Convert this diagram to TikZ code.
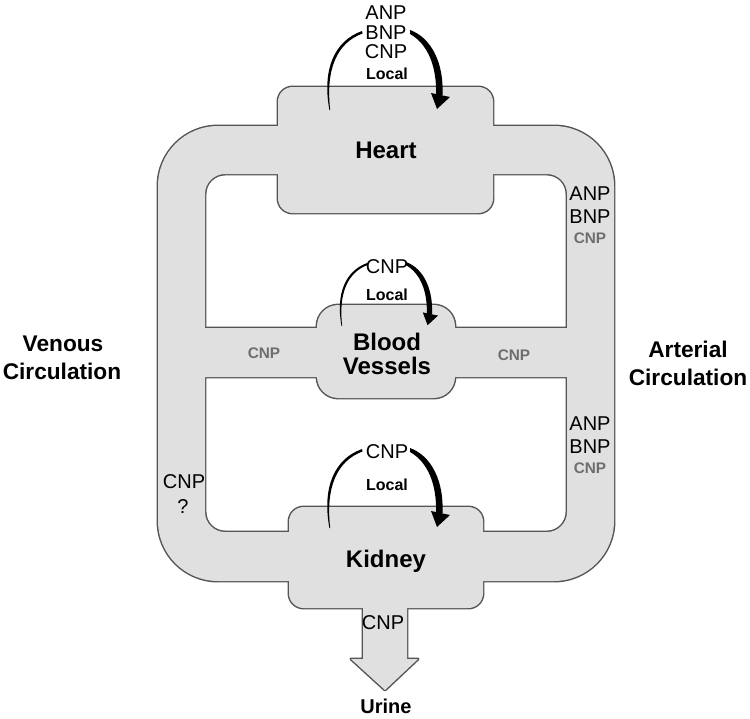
\documentclass[tikz,border=0pt]{standalone}
\usepackage{fontspec}
\setmainfont{Liberation Sans}
\definecolor{fillgray}{HTML}{E0E0E0}
\definecolor{linegray}{HTML}{555555}
\definecolor{cnpgray}{HTML}{6E6E6E}
\tikzset{
  txt/.style={inner sep=0pt, anchor=base, font=\fontsize{15}{18}\selectfont},
  gcnp/.style={inner sep=0pt, anchor=base, text=cnpgray, font=\bfseries\fontsize{11.5}{13}\selectfont},
  organ/.style={inner sep=0pt, anchor=base, font=\bfseries\fontsize{18}{20}\selectfont},
  loc/.style={inner sep=0pt, anchor=base, font=\bfseries\fontsize{12}{14}\selectfont},
  circ/.style={inner sep=0pt, anchor=base, font=\bfseries\fontsize{17}{20}\selectfont},
  urine/.style={inner sep=0pt, anchor=base, font=\bfseries\fontsize{15}{18}\selectfont},
  outline/.style={draw=linegray, line width=2.2pt, line join=round},
  body/.style={fill=fillgray},
  tip/.style={fill=black, draw=none}
}
\newcommand{\bandshape}[1]{%
  \path[#1, even odd rule]
    (158,126) [rounded corners=45pt] rectangle (614,581) [sharp corners]
    (205,328) -- (205,194) .. controls (205,183) and (214,174) .. (225,174)
      -- (547,174) .. controls (558,174) and (567,183) .. (567,194)
      -- (567,328) -- cycle
    (205,377) -- (205,512) .. controls (205,523) and (214,532) .. (225,532)
      -- (547,532) .. controls (558,532) and (567,523) .. (567,512)
      -- (567,377) -- cycle;
  \path[#1, rounded corners=11pt] (278,87) rectangle (493,213);
  \path[#1, rounded corners=16pt] (317,305) rectangle (455,398);
  \path[#1, rounded corners=11pt] (289,507) rectangle (483,608);
  \path[#1] (363,600) -- (363,659) -- (351,659) -- (385,690) -- (418,659)
    -- (407,659) -- (407,600) -- cycle;
}
\newcommand{\localarrow}{%
  \path[tip] (-55.6,0) .. controls (-63,-40) and (-51,-69) .. (-23,-79)
    -- (-22.5,-76.5) .. controls (-48.5,-67) and (-59.5,-40) .. (-54.8,0) -- cycle;
  \path[tip] (25,-80) .. controls (47,-72) and (59,-46) .. (57.5,-15)
    -- (51,-15) .. controls (52,-43) and (43,-66) .. (25,-76) -- cycle;
  \path[tip] (46,-17) -- (65,-13) -- (52,-1) -- cycle;
}
\begin{document}
\begin{tikzpicture}[x=0.75pt, y=-0.75pt]
\useasboundingbox (0,0) rectangle (750,718);
% merged grey shape: outline first, then fill over the inner halves
\bandshape{outline}
\bandshape{body}
% local action arrows
\begin{scope}[shift={(385,110)}]\localarrow\end{scope}
\begin{scope}[shift={(386,326)}, scale=0.8]\localarrow\end{scope}
\begin{scope}[shift={(385,528)}]\localarrow\end{scope}
% heart
\node[txt] (hanp) at (386,19) {ANP};
\node[txt] (hbnp) at (386,39.5) {BNP};
\node[txt] (hcnp) at (386,58) {CNP};
\node[loc] (hloc) at (387,79) {Local};
\node[organ] (heart) at (386,158) {Heart};
% arterial upper
\node[txt] (aanp1) at (590,200) {ANP};
\node[txt] (abnp1) at (590,223) {BNP};
\node[gcnp] (acnp1) at (590,243) {CNP};
% blood vessels
\node[txt] (bcnp) at (387,273) {CNP};
\node[loc] (bloc) at (387,300) {Local};
\node[organ] (blood) at (387,350) {Blood};
\node[organ] (vessels) at (387,374) {Vessels};
\node[gcnp] (vcnpl) at (264,358) {CNP};
\node[gcnp] (vcnpr) at (514,360) {CNP};
% arterial lower
\node[txt] (aanp2) at (590,430) {ANP};
\node[txt] (abnp2) at (590,453) {BNP};
\node[gcnp] (acnp2) at (590,473) {CNP};
% venous
\node[txt] (vcnp) at (184,488) {CNP};
\node[txt] (vq) at (183,513) {?};
% kidney
\node[txt] (kcnp) at (387,458) {CNP};
\node[loc] (kloc) at (387,490) {Local};
\node[organ] (kidney) at (386,567) {Kidney};
\node[txt] (ucnp) at (383,629) {CNP};
\node[urine] (urine) at (386,713) {Urine};
% side labels
\node[circ] (ven1) at (63,351) {Venous};
\node[circ] (ven2) at (62,379) {Circulation};
\node[circ] (art1) at (688,357) {Arterial};
\node[circ] (art2) at (688,385) {Circulation};
\end{tikzpicture}
\end{document}
